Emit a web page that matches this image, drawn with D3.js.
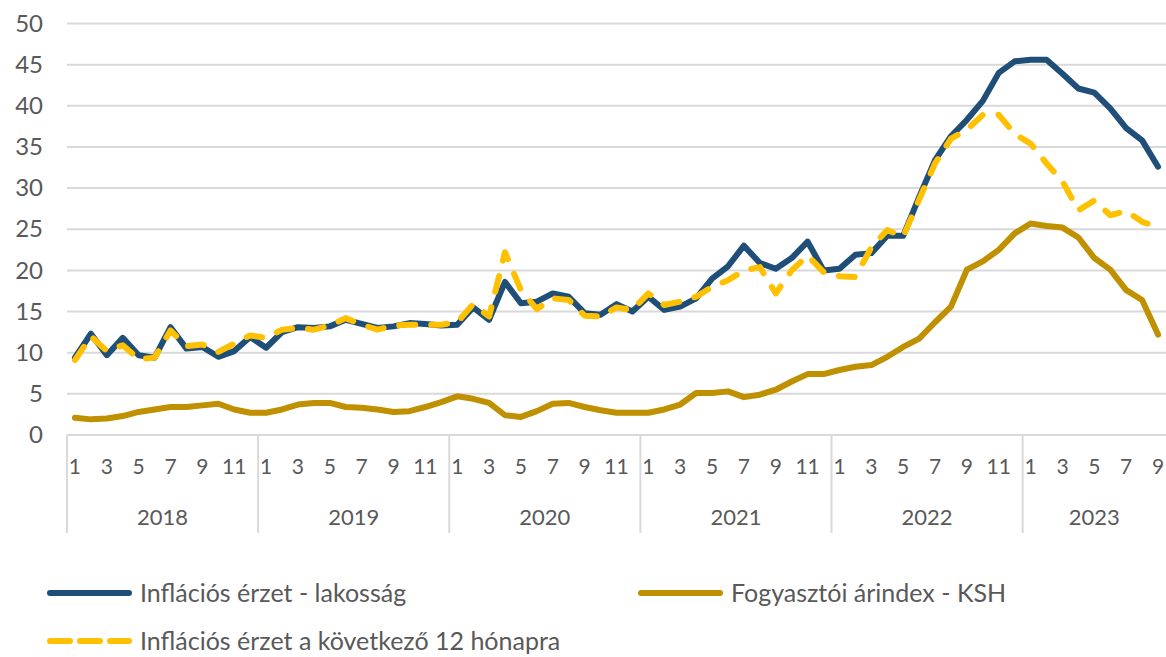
<!DOCTYPE html>
<html>
<head>
<meta charset="utf-8">
<script src="https://cdn.jsdelivr.net/npm/d3@7"></script>
<style>
  body { margin: 0; background: #fff; }
  text { font-family: Lato, "Open Sans", sans-serif; fill: #595959; }
</style>
</head>
<body>
<div id="chart"></div>
<script>
var years = [2018, 2019, 2020, 2021, 2022, 2023];
var monthsInYear = [12, 12, 12, 12, 12, 9];
var yTicks = [0, 5, 10, 15, 20, 25, 30, 35, 40, 45, 50];

// Inflációs érzet - lakosság
var lakossag = [
  9.4, 12.3, 9.7, 11.8, 9.7, 9.4, 13.1, 10.5, 10.7, 9.5, 10.2, 11.9,
  10.6, 12.5, 13.1, 13.0, 13.2, 14.0, 13.5, 13.0, 13.2, 13.6, 13.5, 13.3,
  13.4, 15.5, 14.0, 18.6, 16.0, 16.2, 17.2, 16.8, 14.8, 14.6, 15.9, 15.0,
  16.8, 15.2, 15.6, 16.6, 19.0, 20.5, 23.0, 20.9, 20.2, 21.5, 23.5, 20.0,
  20.2, 21.9, 22.1, 24.2, 24.2, 28.9, 33.4, 36.3, 38.3, 40.6, 44.0, 45.4,
  45.6, 45.6, 43.9, 42.1, 41.6, 39.7, 37.3, 35.8, 32.6
];
// Inflációs érzet a következő 12 hónapra
var kovetkezo = [
  9.1, 12.0, 10.2, 10.9, 9.2, 9.4, 12.7, 10.8, 11.0, 10.1, 11.1, 12.1,
  11.8, 12.8, 13.0, 12.8, 13.3, 14.2, 13.4, 12.8, 13.3, 13.4, 13.4, 13.4,
  13.7, 15.9, 14.4, 22.2, 17.6, 15.3, 16.6, 16.4, 14.5, 14.4, 15.5, 15.2,
  17.2, 15.8, 16.2, 16.8, 18.0, 18.8, 20.0, 20.4, 17.2, 20.0, 21.8, 19.8,
  19.3, 19.2, 22.8, 24.9, 24.1, 28.6, 33.0, 36.0, 37.1, 38.9, 38.9, 36.6,
  35.4, 33.0, 30.8, 27.3, 28.5, 26.7, 27.2, 25.9, 25.3
];
// Fogyasztói árindex - KSH
var ksh = [
  2.1, 1.9, 2.0, 2.3, 2.8, 3.1, 3.4, 3.4, 3.6, 3.8, 3.1, 2.7,
  2.7, 3.1, 3.7, 3.9, 3.9, 3.4, 3.3, 3.1, 2.8, 2.9, 3.4, 4.0,
  4.7, 4.4, 3.9, 2.4, 2.2, 2.9, 3.8, 3.9, 3.4, 3.0, 2.7, 2.7,
  2.7, 3.1, 3.7, 5.1, 5.1, 5.3, 4.6, 4.9, 5.5, 6.5, 7.4, 7.4,
  7.9, 8.3, 8.5, 9.5, 10.7, 11.7, 13.7, 15.6, 20.1, 21.1, 22.5, 24.5,
  25.7, 25.4, 25.2, 24.0, 21.5, 20.1, 17.6, 16.4, 12.2
];

var seriesNames = ["Inflációs érzet - lakosság", "Fogyasztói árindex - KSH", "Inflációs érzet a következő 12 hónapra"];
var seriesColors = ["#1f4e79", "#bf9000", "#ffc000"];

// categories: year-month keys
var categories = [];
years.forEach(function(y, i){
  for (var m = 1; m <= monthsInYear[i]; m++) categories.push({year: y, month: m, key: y + "-" + m});
});

var width = 1166, height = 657;
var plotLeft = 67, plotRight = 1166, plotTop = 23.5, plotBottom = 435;

var svg = d3.select("#chart").append("svg")
  .attr("width", width)
  .attr("height", height);

var x = d3.scaleBand()
  .domain(categories.map(function(d){ return d.key; }))
  .range([plotLeft, plotRight])
  .padding(0);

var y = d3.scaleLinear().domain([0, 50]).range([plotBottom, plotTop]);

function cx(k){ return x(k) + x.bandwidth()/2; }

// gridlines
svg.append("g").selectAll("line")
  .data(yTicks)
  .enter().append("line")
  .attr("x1", plotLeft).attr("x2", plotRight)
  .attr("y1", function(d){ return y(d); })
  .attr("y2", function(d){ return y(d); })
  .attr("stroke", "#d9d9d9")
  .attr("stroke-width", 2);

// y axis labels
var yAxis = d3.axisLeft(y).tickValues(yTicks).tickSize(0).tickPadding(0);
var gy = svg.append("g").attr("transform", "translate(43,0)").call(yAxis);
gy.select(".domain").remove();
gy.selectAll("text")
  .attr("font-size", 24)
  .attr("fill", "#595959")
  .attr("font-family", "Lato, sans-serif");

// x axis: month labels (odd months)
var xAxis = d3.axisBottom(x)
  .tickValues(categories.filter(function(d){ return d.month % 2 == 1; }).map(function(d){ return d.key; }))
  .tickFormat(function(k){ return k.split("-")[1]; })
  .tickSize(0)
  .tickPadding(0);
var gx = svg.append("g").attr("transform", "translate(0," + 458 + ")").call(xAxis);
gx.select(".domain").remove();
gx.selectAll("text")
  .attr("font-size", 21)
  .attr("dy", "0.75em")
  .attr("fill", "#595959")
  .attr("font-family", "Lato, sans-serif");

// year separators + labels
var yearStarts = years.map(function(yr){ return x(yr + "-1"); });
svg.append("g").selectAll("line")
  .data(yearStarts)
  .enter().append("line")
  .attr("x1", function(d){ return d; })
  .attr("x2", function(d){ return d; })
  .attr("y1", plotBottom)
  .attr("y2", 533)
  .attr("stroke", "#d9d9d9")
  .attr("stroke-width", 2);

svg.append("g").selectAll("text")
  .data(years)
  .enter().append("text")
  .attr("x", function(yr, i){
    var last = yr + "-" + monthsInYear[i];
    return (x(yr + "-1") + x(last) + x.bandwidth())/2;
  })
  .attr("y", 517)
  .attr("dy", "0.35em")
  .attr("text-anchor", "middle")
  .attr("font-size", 22)
  .text(function(d){ return d; });

// lines
var line = d3.line()
  .x(function(d, i){ return cx(categories[i].key); })
  .y(function(d){ return y(d); });

function drawSeries(values, color, dashed){
  svg.append("path")
    .datum(values)
    .attr("d", line)
    .attr("fill", "none")
    .attr("stroke", color)
    .attr("stroke-width", 6)
    .attr("stroke-linejoin", "round")
    .attr("stroke-linecap", "round")
    .attr("stroke-dasharray", dashed ? "16,16" : null);
}

drawSeries(ksh, seriesColors[1], false);
drawSeries(lakossag, seriesColors[0], false);
drawSeries(kovetkezo, seriesColors[2], true);

// legend
var legendItems = [
  {name: seriesNames[0], color: seriesColors[0], dashed: false, x: 47, y: 593},
  {name: seriesNames[1], color: seriesColors[1], dashed: false, x: 638, y: 593},
  {name: seriesNames[2], color: seriesColors[2], dashed: true, x: 47, y: 641}
];
var lg = svg.append("g").selectAll("g")
  .data(legendItems)
  .enter().append("g")
  .attr("transform", function(d){ return "translate(" + d.x + "," + d.y + ")"; });

lg.append("line")
  .attr("x1", 3).attr("x2", 82)
  .attr("y1", 0).attr("y2", 0)
  .attr("stroke", function(d){ return d.color; })
  .attr("stroke-width", 6)
  .attr("stroke-linecap", "round")
  .attr("stroke-dasharray", function(d){ return d.dashed ? "20,10" : null; });

lg.append("text")
  .attr("x", 93)
  .attr("y", 0)
  .attr("dy", "0.35em")
  .attr("font-size", 25)
  .text(function(d){ return d.name; });
</script>
</body>
</html>
